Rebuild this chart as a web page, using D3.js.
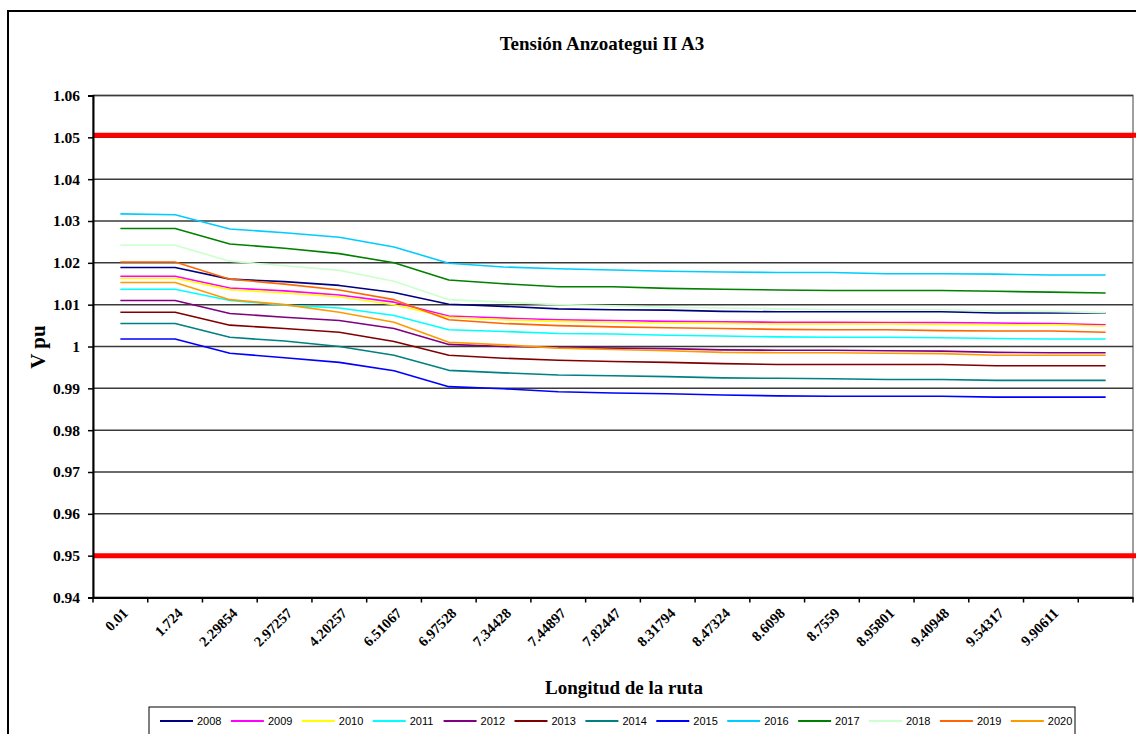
<!DOCTYPE html>
<html>
<head>
<meta charset="utf-8">
<script src="https://cdn.jsdelivr.net/npm/d3@7"></script>
<style>
  html, body { margin: 0; padding: 0; background: #fff; }
  svg { display: block; }
</style>
</head>
<body>
<svg id="chart" width="1136" height="734"></svg>
<script>
// ---------------- DATA ----------------
const categories = ["0.01","1.724","2.29854","2.97257","4.20257","6.51067","6.97528","7.34428","7.44897","7.82447","8.31794","8.47324","8.6098","8.7559","8.95801","9.40948","9.54317","9.90611",""];
const yTicks = [0.94,0.95,0.96,0.97,0.98,0.99,1,1.01,1.02,1.03,1.04,1.05,1.06];
const yTickLabels = ["0.94","0.95","0.96","0.97","0.98","0.99","1","1.01","1.02","1.03","1.04","1.05","1.06"];
const limitValues = [1.0505, 0.9500];

const years = ["2008","2009","2010","2011","2012","2013","2014","2015","2016","2017","2018","2019","2020"];
const colors = ["#000080","#FF00FF","#FFFF00","#00FFFF","#800080","#800000","#008080","#0000FF","#00CCFF","#008000","#CCFFCC","#FF6600","#FF9900"];

const v2008 = [1.0189,1.0189,1.0161,1.0155,1.0146,1.0129,1.0101,1.0096,1.0090,1.0088,1.0087,1.0084,1.0083,1.0083,1.0083,1.0083,1.0080,1.0080,1.0080];
const v2009 = [1.0168,1.0168,1.0140,1.0133,1.0123,1.0106,1.0073,1.0068,1.0064,1.0062,1.0060,1.0059,1.0058,1.0058,1.0057,1.0057,1.0056,1.0055,1.0052];
const v2010 = [1.0163,1.0163,1.0136,1.0128,1.0119,1.0100,1.0070,1.0064,1.0060,1.0058,1.0056,1.0055,1.0054,1.0054,1.0054,1.0053,1.0052,1.0052,1.0049];
const v2011 = [1.0137,1.0137,1.0110,1.0099,1.0092,1.0074,1.0040,1.0036,1.0031,1.0030,1.0027,1.0025,1.0023,1.0022,1.0022,1.0021,1.0019,1.0018,1.0018];
const v2012 = [1.0110,1.0110,1.0079,1.0070,1.0062,1.0043,1.0005,1.0000,0.9998,0.9996,0.9995,0.9992,0.9991,0.9991,0.9990,0.9989,0.9986,0.9985,0.9985];
const v2013 = [1.0082,1.0082,1.0051,1.0043,1.0034,1.0012,0.9979,0.9972,0.9967,0.9964,0.9962,0.9959,0.9957,0.9957,0.9957,0.9957,0.9954,0.9954,0.9954];
const v2014 = [1.0055,1.0055,1.0022,1.0013,1.0000,0.9979,0.9943,0.9937,0.9932,0.9930,0.9928,0.9925,0.9924,0.9923,0.9921,0.9921,0.9919,0.9919,0.9919];
const v2015 = [1.0018,1.0018,0.9984,0.9973,0.9962,0.9942,0.9904,0.9899,0.9892,0.9889,0.9887,0.9884,0.9882,0.9881,0.9881,0.9881,0.9879,0.9879,0.9879];
const v2016 = [1.0317,1.0315,1.0281,1.0272,1.0261,1.0238,1.0199,1.0190,1.0186,1.0183,1.0180,1.0178,1.0177,1.0177,1.0174,1.0174,1.0173,1.0171,1.0171];
const v2017 = [1.0282,1.0282,1.0245,1.0235,1.0222,1.0200,1.0159,1.0150,1.0143,1.0143,1.0139,1.0137,1.0135,1.0134,1.0134,1.0134,1.0132,1.0130,1.0128];
const v2018 = [1.0242,1.0242,1.0204,1.0193,1.0182,1.0156,1.0112,1.0106,1.0100,1.0097,1.0094,1.0092,1.0090,1.0088,1.0088,1.0088,1.0085,1.0084,1.0081];
const v2019 = [1.0202,1.0202,1.0161,1.0149,1.0135,1.0112,1.0064,1.0055,1.0050,1.0047,1.0045,1.0043,1.0041,1.0040,1.0040,1.0038,1.0037,1.0037,1.0034];
const v2020 = [1.0153,1.0153,1.0112,1.0100,1.0082,1.0058,1.0010,1.0004,0.9996,0.9993,0.9990,0.9986,0.9985,0.9985,0.9984,0.9983,0.9979,0.9979,0.9979];

const seriesValues = [v2008,v2009,v2010,v2011,v2012,v2013,v2014,v2015,v2016,v2017,v2018,v2019,v2020];

// ---------------- LAYOUT ----------------
const svg = d3.select("#chart");
const plot = { left: 93, right: 1133, top: 95.5, bottom: 597.5 };
const serif = "'Liberation Serif', 'Times New Roman', serif";
const sans = "'Liberation Sans', Arial, sans-serif";

const x = d3.scaleBand().domain(categories.map((c, i) => i)).range([plot.left, plot.right]).padding(0);
const xc = i => x(i) + x.bandwidth() / 2;
const y = d3.scaleLinear().domain([0.94, 1.06]).range([plot.bottom, plot.top]);

// outer chart frame
svg.append("path")
  .attr("d", `M8,740 L8,11 L1140,11`)
  .attr("fill", "none").attr("stroke", "#000").attr("stroke-width", 2);

// title
svg.append("text")
  .attr("x", 602).attr("y", 50)
  .attr("text-anchor", "middle")
  .attr("font-family", serif).attr("font-weight", "bold").attr("font-size", 19)
  .text("Tensión Anzoategui II A3");

// plot frame (gray)
svg.append("rect")
  .attr("x", plot.left).attr("y", plot.top)
  .attr("width", plot.right - plot.left).attr("height", plot.bottom - plot.top)
  .attr("fill", "none").attr("stroke", "#808080").attr("stroke-width", 1.5);

// gridlines
svg.append("g").selectAll("line").data(yTicks).join("line")
  .attr("x1", plot.left).attr("x2", plot.right)
  .attr("y1", d => y(d)).attr("y2", d => y(d))
  .attr("stroke", "#3a3a3a").attr("stroke-width", 1.5);

// limit lines
svg.append("g").selectAll("line").data(limitValues).join("line")
  .attr("x1", plot.left).attr("x2", plot.right + 3)
  .attr("y1", d => y(d)).attr("y2", d => y(d))
  .attr("stroke", "#FF0000").attr("stroke-width", 5);

// series
const line = d3.line().x((d, i) => xc(i)).y(d => y(d));
svg.append("g").selectAll("path").data(seriesValues).join("path")
  .attr("d", d => line(d))
  .attr("fill", "none")
  .attr("stroke", (d, i) => colors[i])
  .attr("stroke-width", 1.6)
  .attr("stroke-linejoin", "round");

// y axis
const yAxis = d3.axisLeft(y).tickValues(yTicks).tickSize(5).tickPadding(8)
  .tickFormat((d, i) => yTickLabels[i]);
const gy = svg.append("g").attr("transform", `translate(${plot.left},0)`).call(yAxis);
gy.select(".domain").attr("stroke", "#000").attr("stroke-width", 2);
gy.selectAll(".tick line").attr("stroke", "#000").attr("stroke-width", 1.5);
gy.selectAll(".tick text")
  .attr("font-family", serif).attr("font-weight", "bold").attr("font-size", 15.5).attr("fill", "#000");

// x axis
const xAxis = d3.axisBottom(x).tickSize(0).tickFormat(i => categories[i]);
const gx = svg.append("g").attr("transform", `translate(0,${plot.bottom})`).call(xAxis);
gx.select(".domain").attr("stroke", "#000").attr("stroke-width", 2);
gx.selectAll(".tick text")
  .attr("font-family", serif).attr("font-weight", "bold").attr("font-size", 14.5).attr("fill", "#000")
  .attr("text-anchor", "end")
  .attr("transform", "translate(5,13) rotate(-45)")
  .attr("dy", "0.35em").attr("y", 0).attr("x", 0);
// tick marks at category boundaries
const boundaries = d3.range(categories.length + 1).map(i => plot.left + i * x.bandwidth());
gx.append("g").selectAll("line").data(boundaries).join("line")
  .attr("x1", d => d).attr("x2", d => d).attr("y1", 0).attr("y2", 5)
  .attr("stroke", "#000").attr("stroke-width", 1.5);

// axis titles
svg.append("text")
  .attr("transform", "translate(45,347) rotate(-90)")
  .attr("text-anchor", "middle")
  .attr("font-family", serif).attr("font-weight", "bold").attr("font-size", 21)
  .text("V pu");

svg.append("text")
  .attr("x", 624).attr("y", 694)
  .attr("text-anchor", "middle")
  .attr("font-family", serif).attr("font-weight", "bold").attr("font-size", 19)
  .text("Longitud de la ruta");

// legend
const legend = svg.append("g");
legend.append("rect")
  .attr("x", 149).attr("y", 707).attr("width", 926).attr("height", 32)
  .attr("fill", "#fff").attr("stroke", "#000").attr("stroke-width", 1);
const step = 70.9;
const items = legend.selectAll("g.item").data(years).join("g")
  .attr("class", "item")
  .attr("transform", (d, i) => `translate(${160 + i * step},721)`);
items.append("line")
  .attr("x1", 0).attr("x2", 33).attr("y1", 0).attr("y2", 0)
  .attr("stroke", (d, i) => colors[i]).attr("stroke-width", 2);
items.append("text")
  .attr("x", 37).attr("y", 0).attr("dy", "0.35em")
  .attr("font-family", sans).attr("font-size", 11).attr("fill", "#000")
  .text(d => d);
</script>
</body>
</html>
